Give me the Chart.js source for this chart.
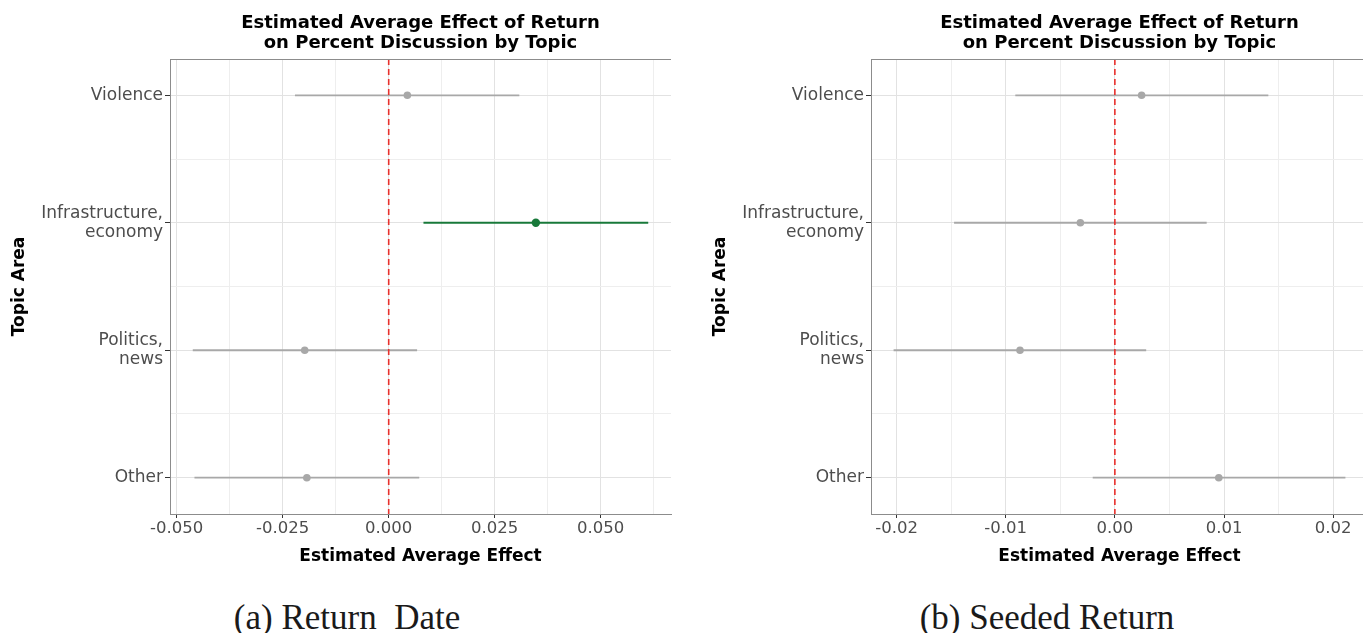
<!DOCTYPE html>
<html>
<head>
<meta charset="utf-8">
<script src="https://cdn.jsdelivr.net/npm/chart.js@4/dist/chart.umd.min.js"></script>
<style>
html, body { margin: 0; padding: 0; background: #ffffff; overflow: hidden; width: 1363px; height: 633px; }
.panel { position: absolute; top: 0; height: 580px; }
#wrapA { left: 0; width: 680px; }
#wrapB { left: 701px; width: 671px; }
.cap { position: absolute; top: 598px; height: 40px; line-height: 40px; font-family: "Liberation Serif", "DejaVu Serif", serif; font-size: 35px; color: #1a1a1a; white-space: pre; text-align: center; width: 400px; }
</style>
</head>
<body>
<div class="panel" id="wrapA"><canvas id="chartA" width="680" height="580"></canvas></div>
<div class="panel" id="wrapB"><canvas id="chartB" width="671" height="580"></canvas></div>
<div class="cap" style="left:147px">(a) Return  Date</div>
<div class="cap" style="left:847px">(b) Seeded Return</div>
<script>
// ---------- data ----------
const categories = ['Violence', 'Infrastructure,\neconomy', 'Politics,\nnews', 'Other'];
const titleLines = ['Estimated Average Effect of Return', 'on Percent Discussion by Topic'];
const xTitle = 'Estimated Average Effect';
const yTitle = 'Topic Area';

// Panel (a) Return Date
const returnEstimate = [0.0044, 0.0347, -0.0198, -0.0193];
const returnLower    = [-0.0221, 0.0082, -0.0462, -0.0458];
const returnUpper    = [0.0308, 0.0612, 0.0067, 0.0072];
const returnSignificant = [false, true, false, false];
const returnTicks = [-0.05, -0.025, 0, 0.025, 0.05];
const returnTickLabels = ['-0.050', '-0.025', '0.000', '0.025', '0.050'];
const returnMinorTicks = [-0.0375, -0.0125, 0.0125, 0.0375, 0.0625];

// Panel (b) Seeded Return
const seededEstimate = [0.00245, -0.00316, -0.00869, 0.00952];
const seededLower    = [-0.00912, -0.01473, -0.02027, -0.00203];
const seededUpper    = [0.01406, 0.00841, 0.00287, 0.02112];
const seededSignificant = [false, false, false, false];
const seededTicks = [-0.02, -0.01, 0, 0.01, 0.02];
const seededTickLabels = ['-0.02', '-0.01', '0.00', '0.01', '0.02'];
const seededMinorTicks = [-0.015, -0.005, 0.005, 0.015];

// ---------- styling ----------
const FONT = '"DejaVu Sans", "Noto Sans", sans-serif';
const GREY = '#a8a8a8';
const GREEN = '#18793a';
const RED = '#e8302c';
const Y_MIN = 0.715, Y_MAX = 4.285;
const yMajor = categories.map((c, i) => i + 1);
const yMinor = [1.5, 2.5, 3.5];

const near = (a, b) => Math.abs(a - b) < 1e-9;

const panelDecor = {
  id: 'panelDecor',
  afterDraw(chart) {
    const { ctx, chartArea } = chart;
    ctx.save();
    ctx.strokeStyle = '#8c8c8c';
    ctx.lineWidth = 1;
    ctx.beginPath();
    ctx.moveTo(chartArea.left, Math.round(chartArea.top) + 0.5);
    ctx.lineTo(chartArea.right, Math.round(chartArea.top) + 0.5);
    ctx.stroke();
    ctx.fillStyle = '#000';
    ctx.font = 'bold 18px ' + FONT;
    ctx.textAlign = 'center';
    ctx.textBaseline = 'alphabetic';
    const cx = (chartArea.left + chartArea.right) / 2;
    ctx.fillText(titleLines[0], cx, 28);
    ctx.fillText(titleLines[1], cx, 48);
    ctx.restore();
  }
};

function makePanel(id, est, lo, hi, sig, majors, majorLabels, minors, padRight) {
  const all = lo.concat(hi);
  const dmin = Math.min(...all), dmax = Math.max(...all);
  const pad = 0.05 * (dmax - dmin);
  const xMin = dmin - pad, xMax = dmax + pad;
  const isMajorX = v => majors.some(m => near(m, v));
  const isMajorY = v => yMajor.some(m => near(m, v));

  const datasets = [];
  categories.forEach((c, i) => {
    datasets.push({
      type: 'line',
      data: [{ x: lo[i], y: i + 1 }, { x: hi[i], y: i + 1 }],
      borderColor: sig[i] ? GREEN : GREY,
      borderWidth: sig[i] ? 2 : 1.8,
      pointRadius: 0,
      order: 3
    });
  });
  datasets.push({
    type: 'scatter',
    data: est.map((v, i) => ({ x: v, y: i + 1 })),
    pointRadius: est.map((v, i) => sig[i] ? 4.2 : 3.8),
    pointBackgroundColor: sig.map(s => s ? GREEN : GREY),
    pointBorderWidth: 0,
    showLine: false,
    order: 2
  });
  datasets.push({
    type: 'line',
    data: [{ x: 0, y: Y_MIN }, { x: 0, y: Y_MAX }],
    borderColor: RED,
    borderWidth: 1.6,
    borderDash: [6, 4],
    pointRadius: 0,
    order: 1
  });

  return new Chart(document.getElementById(id), {
    type: 'scatter',
    data: { datasets },
    options: {
      responsive: false,
      animation: false,
      devicePixelRatio: 1,
      events: [],
      layout: { padding: { top: 59, right: padRight, bottom: 0, left: 0 } },
      plugins: { legend: { display: false }, tooltip: { enabled: false }, title: { display: false } },
      scales: {
        x: {
          type: 'linear',
          min: xMin, max: xMax,
          afterBuildTicks: s => { s.ticks = majors.concat(minors).sort((a, b) => a - b).map(v => ({ value: v })); },
          afterFit: s => { s.height = 66; },
          ticks: {
            autoSkip: false, maxRotation: 0, minRotation: 0,
            color: '#4d4d4d', padding: 1,
            font: { family: FONT, size: 16.5 },
            callback: v => { const k = majors.findIndex(m => near(m, v)); return k >= 0 ? majorLabels[k] : ''; }
          },
          grid: {
            drawTicks: true, tickLength: 4,
            color: c => (c.tick && isMajorX(c.tick.value)) ? '#e2e2e2' : '#eeeeee',
            lineWidth: 1,
            tickColor: c => (c.tick && isMajorX(c.tick.value)) ? '#333333' : 'rgba(0,0,0,0)',
            tickWidth: 1
          },
          border: { display: true, color: '#8c8c8c', width: 1 },
          title: {
            display: true, text: xTitle, color: '#000',
            font: { family: FONT, size: 17, weight: 'bold' },
            padding: { top: 0, bottom: 13 }
          }
        },
        y: {
          type: 'linear',
          min: Y_MIN, max: Y_MAX, reverse: true,
          afterBuildTicks: s => { s.ticks = yMajor.concat(yMinor).sort((a, b) => a - b).map(v => ({ value: v })); },
          afterFit: s => { s.width = 170; },
          ticks: {
            autoSkip: false, color: '#4d4d4d', padding: 2,
            font: { family: FONT, size: 17, lineHeight: 1.13 },
            callback: v => { const k = yMajor.findIndex(m => near(m, v)); return k >= 0 ? categories[k].split('\n') : ''; }
          },
          grid: {
            drawTicks: true, tickLength: 5,
            color: c => (c.tick && isMajorY(c.tick.value)) ? '#e2e2e2' : '#eeeeee',
            lineWidth: 1,
            tickColor: c => (c.tick && isMajorY(c.tick.value)) ? '#333333' : 'rgba(0,0,0,0)',
            tickWidth: 1
          },
          border: { display: true, color: '#8c8c8c', width: 1 },
          title: {
            display: true, text: yTitle, color: '#000',
            font: { family: FONT, size: 17, weight: 'bold' },
            padding: { top: 9, bottom: 0 }
          }
        }
      }
    },
    plugins: [panelDecor]
  });
}

makePanel('chartA', returnEstimate, returnLower, returnUpper, returnSignificant,
  returnTicks, returnTickLabels, returnMinorTicks, 9);
makePanel('chartB', seededEstimate, seededLower, seededUpper, seededSignificant,
  seededTicks, seededTickLabels, seededMinorTicks, 0);
</script>
</body>
</html>
